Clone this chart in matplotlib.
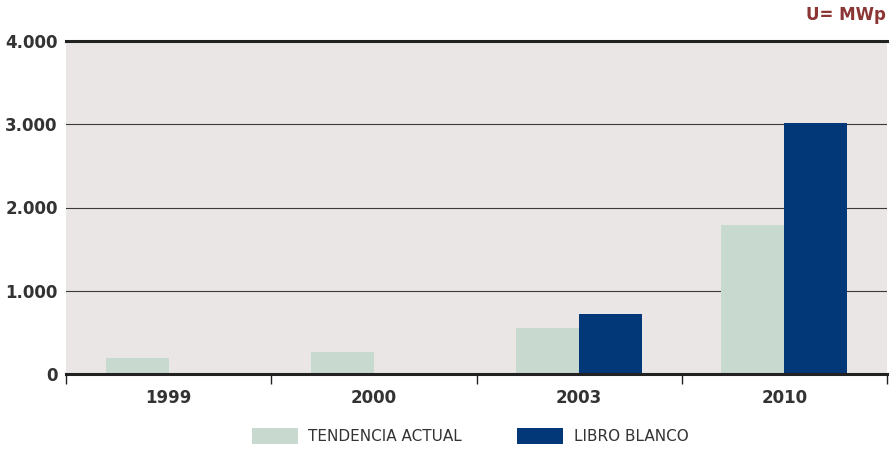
import matplotlib
matplotlib.use("Agg")
import matplotlib.pyplot as plt
from matplotlib.patches import Patch
import numpy as np

categories = ["1999", "2000", "2003", "2010"]
tendencia = [190, 265, 550, 1790]
libro = [0, 0, 720, 3010]
yticks = [0, 1000, 2000, 3000, 4000]
ytick_labels = ["0", "1.000", "2.000", "3.000", "4.000"]

c_ta = "#C8D9D0"
c_lb = "#033878"
bg = "#EBE6E6"
txt = "#333333"

fig = plt.figure(figsize=(8.91, 4.5), dpi=100)
ax = fig.add_axes([66/891, 1-374/450, (887-66)/891, (374-41)/450])
ax.set_facecolor(bg)

x = np.arange(len(categories))
w = 0.307
ax.bar(x - w/2, tendencia, w, color=c_ta, zorder=3)
lb_x = [xi + w/2 for xi, v in zip(x, libro) if v > 0]
lb_v = [v for v in libro if v > 0]
ax.bar(lb_x, lb_v, w, color=c_lb, zorder=3)

ax.set_xlim(-0.5, len(categories) - 0.5)
ax.set_ylim(0, 4000)

for y in [1000, 2000, 3000]:
    ax.axhline(y, color="#3a3a3a", lw=0.8, zorder=2)
ax.axhline(4000, color="#222222", lw=2.2, zorder=4, clip_on=False)

for s in ["left", "right", "top"]:
    ax.spines[s].set_visible(False)
ax.spines["bottom"].set_linewidth(2.2)
ax.spines["bottom"].set_color("#222222")
ax.spines["bottom"].set_zorder(5)

ax.set_yticks(yticks)
ax.set_yticklabels(ytick_labels, fontsize=12, fontweight="bold", color=txt)
ax.tick_params(axis="y", length=0, pad=6)

ax.set_xticks(np.arange(-0.5, len(categories), 1.0))
ax.set_xticklabels([])
ax.set_xticks(x, minor=True)
ax.set_xticklabels(categories, minor=True, fontsize=12, fontweight="bold", color=txt)
ax.tick_params(axis="x", which="major", length=7, width=1, color="#222222", direction="out")
ax.tick_params(axis="x", which="minor", length=0, pad=11)

fig.text(886/891, 1-15/450, "U= MWp", ha="right", va="center",
         fontsize=12, fontweight="bold", color="#8B3535")

handles = [Patch(facecolor=c_ta, edgecolor="none"), Patch(facecolor=c_lb, edgecolor="none")]
fig.legend(handles, ["TENDENCIA ACTUAL", "LIBRO BLANCO"], loc="center",
           bbox_to_anchor=(470/891, 1-436/450), ncol=2, frameon=False,
           handlelength=3.0, handleheight=1.2, columnspacing=3.6,
           handletextpad=0.7, labelcolor=txt,
           prop={"family": ["DejaVu Sans"], "size": 11})

fig.savefig("out.png", dpi=100, facecolor="white")
